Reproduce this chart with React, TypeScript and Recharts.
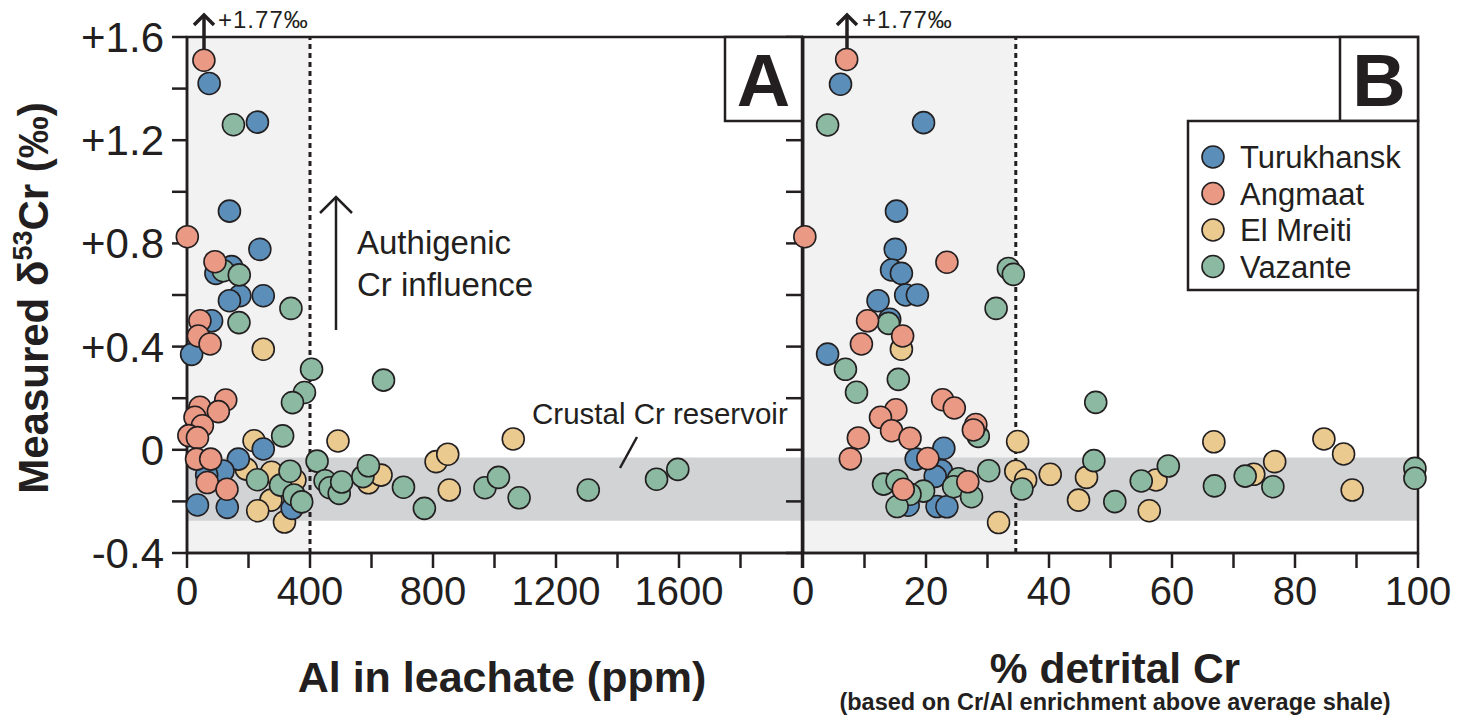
import { ScatterChart, Scatter, XAxis, YAxis, ReferenceArea, ReferenceLine } from "recharts";

const INK = "#231f20";
const FONT = "'Liberation Sans', Arial, Helvetica, sans-serif";

const seriesNames = ["Turukhansk", "Angmaat", "El Mreiti", "Vazante"];
const seriesColors = ["#5b8fba", "#ea9985", "#ebca8f", "#8cb9a1"];

const yTicks = [-0.4, -0.2, 0, 0.2, 0.4, 0.6, 0.8, 1.0, 1.2, 1.4, 1.6];
const yTickLabels = ["-0.4", "", "0", "", "+0.4", "", "+0.8", "", "+1.2", "", "+1.6"];
const alTicks = [0, 200, 400, 600, 800, 1000, 1200, 1400, 1600, 1800, 2000];
const alTickLabels = ["0", "", "400", "", "800", "", "1200", "", "1600", "", ""];
const detTicks = [0, 10, 20, 30, 40, 50, 60, 70, 80, 90, 100];
const detTickLabels = ["0", "", "20", "", "40", "", "60", "", "80", "", "100"];

const crustalBand = [-0.275, -0.03];
const alCutoff = 400;
const detritalCutoff = 34.6;

// panel A: [Al in leachate ppm, d53Cr]
const turukhanskA = [
  [72, 1.42], [229, 1.27], [138, 0.925], [237, 0.777], [145, 0.71], [94, 0.684],
  [172, 0.597], [138, 0.578], [248, 0.597], [80, 0.5], [15, 0.37], [248, 0.003],
  [167, -0.036], [117, -0.082], [64, -0.098], [34, -0.214], [131, -0.223], [342, -0.227],
];
const angmaatA = [
  [55, 1.51], [1, 0.826], [91, 0.729], [42, 0.5], [37, 0.441], [75, 0.41],
  [126, 0.193], [42, 0.165], [102, 0.148], [26, 0.126], [50, 0.093], [6, 0.055],
  [34, 0.047], [31, -0.036], [77, -0.036], [66, -0.127], [130, -0.153],
];
const elMreitiA = [
  [248, 0.39], [218, 0.035], [491, 0.034], [1061, 0.042], [193, -0.075], [275, -0.087],
  [351, -0.117], [273, -0.195], [230, -0.236], [317, -0.28], [590, -0.128], [631, -0.098],
  [810, -0.046], [848, -0.017], [853, -0.156],
];
const vazanteA = [
  [151, 1.26], [118, 0.694], [170, 0.678], [338, 0.548], [169, 0.493], [405, 0.312],
  [382, 0.222], [343, 0.183], [639, 0.27], [311, 0.054], [423, -0.044], [229, -0.116],
  [304, -0.137], [335, -0.083], [348, -0.175], [373, -0.202], [449, -0.12], [465, -0.147],
  [495, -0.169], [503, -0.125], [572, -0.104], [590, -0.062], [704, -0.145], [772, -0.227],
  [969, -0.147], [1013, -0.107], [1080, -0.186], [1305, -0.156], [1527, -0.114], [1596, -0.076],
];

// panel B: [% detrital Cr, d53Cr]
const turukhanskB = [
  [6.1, 1.417], [19.6, 1.268], [15.2, 0.925], [15.0, 0.777], [14.4, 0.697], [16.0, 0.684],
  [12.2, 0.578], [16.7, 0.6], [18.6, 0.6], [14.1, 0.506], [4.0, 0.371], [22.9, 0.006],
  [18.4, -0.036], [22.5, -0.081], [21.5, -0.103], [17.1, -0.215], [21.8, -0.22], [23.4, -0.221],
];
const angmaatB = [
  [7.1, 1.513], [0.3, 0.826], [23.4, 0.727], [10.5, 0.5], [16.2, 0.441], [9.5, 0.41],
  [22.7, 0.194], [24.6, 0.162], [15.1, 0.155], [12.6, 0.126], [28.1, 0.098], [27.7, 0.077],
  [14.4, 0.074], [9.0, 0.046], [17.4, 0.045], [7.7, -0.035], [20.3, -0.034], [26.8, -0.124],
  [16.3, -0.153],
];
const elMreitiB = [
  [16.0, 0.39], [34.9, 0.032], [66.8, 0.031], [84.7, 0.042], [87.9, -0.016], [34.6, -0.083],
  [40.2, -0.095], [36.2, -0.117], [46.1, -0.107], [44.8, -0.195], [56.3, -0.236], [57.4, -0.117],
  [73.3, -0.095], [76.7, -0.046], [89.3, -0.156], [31.8, -0.282],
];
const vazanteB = [
  [4.0, 1.259], [33.4, 0.703], [34.2, 0.68], [31.4, 0.548], [13.9, 0.49], [6.9, 0.312],
  [15.5, 0.273], [8.7, 0.223], [47.6, 0.184], [28.5, 0.052], [30.2, -0.081], [35.6, -0.152],
  [25.3, -0.112], [24.5, -0.143], [27.4, -0.182], [13.1, -0.133], [15.3, -0.12], [19.6, -0.16],
  [17.4, -0.172], [15.3, -0.22], [47.3, -0.042], [50.7, -0.201], [55.0, -0.121], [59.4, -0.063],
  [66.9, -0.14], [71.9, -0.102], [76.4, -0.143], [99.5, -0.072], [99.5, -0.11],
];

const toPts = (arr: number[][]) => arr.map(([x, y]) => ({ x, y }));

const dot = (color: string) => (p: any) => (
  <circle cx={p.cx} cy={p.cy} r={11} fill={color} stroke={INK} strokeWidth={1.6} />
);

// drawing order: El Mreiti, Turukhansk, Vazante, Angmaat (on top)
function layers(sets: number[][][]) {
  const order = [2, 0, 3, 1];
  return order.map((i) => (
    <Scatter
      key={seriesNames[i]}
      name={seriesNames[i]}
      data={toPts(sets[i])}
      fill={seriesColors[i]}
      shape={dot(seriesColors[i])}
      isAnimationActive={false}
    />
  ));
}

const xTickStyle = { fontSize: 40, fill: INK, fontFamily: FONT };
const yTickStyle = { fontSize: 42, fill: INK, fontFamily: FONT };
const axisLine = { stroke: INK, strokeWidth: 2.5 };
const tickLine = { stroke: INK, strokeWidth: 2.5 };

export default function App() {
  return (
    <div style={{ position: "relative", width: 1458, height: 719, background: "#fff", fontFamily: FONT }}>
      <style>{`body{margin:0}`}</style>

      {/* panel A */}
      <div style={{ position: "absolute", left: 0, top: 0 }}>
        <ScatterChart width={830} height={719} margin={{ top: 37, right: 28, bottom: 0, left: 0 }}>
          <ReferenceArea x1={0} x2={alCutoff} y1={-0.4} y2={1.6} fill="#f2f2f2" fillOpacity={1} stroke="none" />
          <ReferenceArea x1={0} x2={2000} y1={crustalBand[0]} y2={crustalBand[1]} fill="#d1d3d4" fillOpacity={1} stroke="none" />
          <ReferenceLine x={alCutoff} stroke={INK} strokeWidth={3} strokeDasharray="5 4" />
          <XAxis
            type="number"
            dataKey="x"
            domain={[0, 2000]}
            ticks={alTicks}
            interval={0}
            tickFormatter={(v: number, i: number) => alTickLabels[i]}
            height={166}
            tickSize={15}
            tickMargin={9}
            tick={xTickStyle}
            axisLine={axisLine}
            tickLine={tickLine}
          />
          <YAxis
            type="number"
            dataKey="y"
            domain={[-0.4, 1.6]}
            ticks={yTicks}
            interval={0}
            tickFormatter={(v: number, i: number) => yTickLabels[i]}
            width={187}
            tickSize={15}
            tickMargin={8}
            tick={yTickStyle}
            axisLine={axisLine}
            tickLine={tickLine}
          />
          {layers([turukhanskA, angmaatA, elMreitiA, vazanteA])}
          <ReferenceArea x1={0} x2={2000} y1={-0.4} y2={1.6} fill="none" stroke={INK} strokeWidth={2.5} />
        </ScatterChart>
      </div>

      {/* panel B */}
      <div style={{ position: "absolute", left: 700, top: 0 }}>
        <ScatterChart width={758} height={719} margin={{ top: 37, right: 40, bottom: 0, left: 0 }}>
          <ReferenceArea x1={0} x2={detritalCutoff} y1={-0.4} y2={1.6} fill="#f2f2f2" fillOpacity={1} stroke="none" />
          <ReferenceArea x1={0} x2={100} y1={crustalBand[0]} y2={crustalBand[1]} fill="#d1d3d4" fillOpacity={1} stroke="none" />
          <ReferenceLine x={detritalCutoff} stroke={INK} strokeWidth={3} strokeDasharray="5 4" />
          <XAxis
            type="number"
            dataKey="x"
            domain={[0, 100]}
            ticks={detTicks}
            interval={0}
            tickFormatter={(v: number, i: number) => detTickLabels[i]}
            height={166}
            tickSize={15}
            tickMargin={9}
            tick={xTickStyle}
            axisLine={axisLine}
            tickLine={tickLine}
          />
          <YAxis
            type="number"
            dataKey="y"
            domain={[-0.4, 1.6]}
            ticks={yTicks}
            interval={0}
            tickFormatter={() => ""}
            width={103}
            tickSize={17}
            tick={yTickStyle}
            axisLine={axisLine}
            tickLine={tickLine}
          />
          {layers([turukhanskB, angmaatB, elMreitiB, vazanteB])}
          <ReferenceArea x1={0} x2={100} y1={-0.4} y2={1.6} fill="none" stroke={INK} strokeWidth={2.5} />
        </ScatterChart>
      </div>

      {/* annotations, legend, titles */}
      <svg width={1458} height={719} style={{ position: "absolute", left: 0, top: 0, pointerEvents: "none" }} fontFamily={FONT}>
        {/* off-scale arrows */}
        <g stroke={INK} strokeWidth={3.5} fill="none">
          <line x1={204} y1={49} x2={204} y2={15} />
          <polyline points="194,25 204,15 214,25" />
          <line x1={847} y1={49} x2={847} y2={15} />
          <polyline points="837,25 847,15 857,25" />
        </g>
        <text x={218} y={28} fontSize={24} letterSpacing={1} fill={INK}>+1.77‰</text>
        <text x={862} y={28} fontSize={24} letterSpacing={1} fill={INK}>+1.77‰</text>

        {/* authigenic arrow */}
        <g stroke={INK} strokeWidth={2.5} fill="none">
          <line x1={336} y1={330} x2={336} y2={198} />
          <polyline points="320,213 336,197 352,213" />
        </g>
        <text x={357} y={254} fontSize={33} fill={INK}>Authigenic</text>
        <text x={357} y={296} fontSize={33} fill={INK}>Cr influence</text>

        {/* crustal reservoir */}
        <text x={532} y={424} fontSize={29.5} fill={INK}>Crustal Cr reservoir</text>
        <line x1={637} y1={437} x2={620} y2={468} stroke={INK} strokeWidth={2.5} />

        {/* panel letters */}
        <rect x={725} y={37} width={77} height={84} fill="#fff" stroke={INK} strokeWidth={2.5} />
        <text x={763.5} y={106} fontSize={74} fontWeight="bold" textAnchor="middle" fill={INK}>A</text>
        <rect x={1340} y={37} width={78} height={84} fill="#fff" stroke={INK} strokeWidth={2.5} />
        <text x={1379} y={106} fontSize={74} fontWeight="bold" textAnchor="middle" fill={INK}>B</text>

        {/* legend */}
        <rect x={1188} y={121} width={230} height={169} fill="#fff" stroke={INK} strokeWidth={2.5} />
        {seriesNames.map((name, i) => (
          <g key={name}>
            <circle cx={1213} cy={157 + i * 36.5} r={11} fill={seriesColors[i]} stroke={INK} strokeWidth={1.6} />
            <text x={1240} y={168 + i * 36.5} fontSize={31} fill={INK}>{name}</text>
          </g>
        ))}

        {/* axis titles */}
        <text transform="translate(48,298) rotate(-90)" fontSize={42} fontWeight="bold" textAnchor="middle" fill={INK}>
          Measured δ<tspan fontSize={27} dy={-16}>53</tspan><tspan dy={16}>Cr (‰)</tspan>
        </text>
        <text x={502} y={692} fontSize={43} fontWeight="bold" textAnchor="middle" fill={INK}>Al in leachate (ppm)</text>
        <text x={1115} y={683} fontSize={42.5} fontWeight="bold" textAnchor="middle" fill={INK}>% detrital Cr</text>
        <text x={1115} y={710} fontSize={23.5} fontWeight="bold" textAnchor="middle" fill={INK}>(based on Cr/Al enrichment above average shale)</text>
      </svg>
    </div>
  );
}
